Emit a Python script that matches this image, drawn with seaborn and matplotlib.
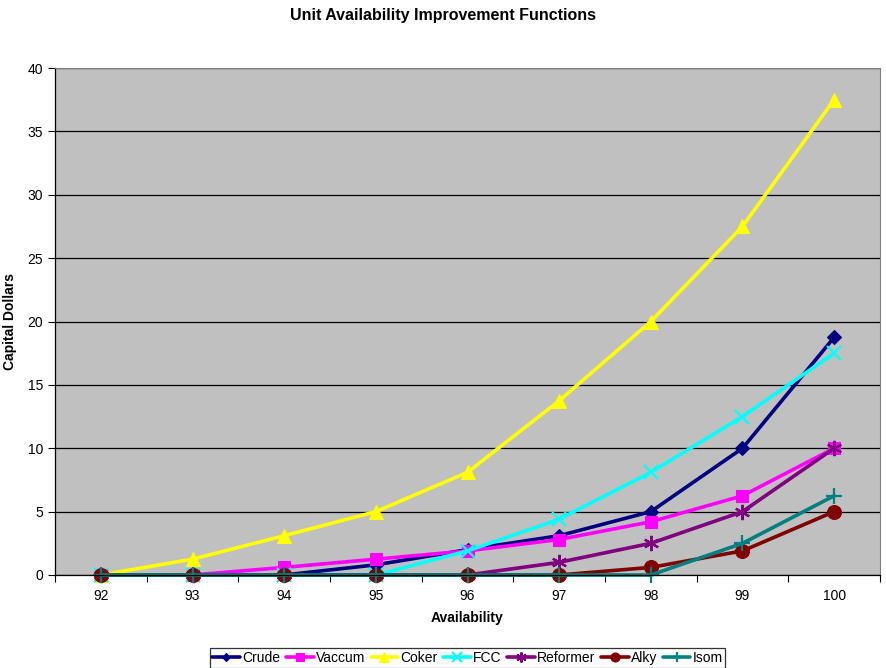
import matplotlib
matplotlib.use("Agg")
import matplotlib.pyplot as plt
import numpy as np
import pandas as pd
import seaborn as sns

availability = [92, 93, 94, 95, 96, 97, 98, 99, 100]

crude = [0, 0, 0, 0.8, 2.0, 3.1, 5.0, 10.0, 18.75]
vaccum = [0, 0, 0.6, 1.25, 1.9, 2.8, 4.2, 6.25, 10.0]
coker = [0, 1.25, 3.1, 5.0, 8.1, 13.75, 20.0, 27.5, 37.5]
fcc = [0, 0, 0, 0, 1.9, 4.4, 8.1, 12.5, 17.5]
reformer = [0, 0, 0, 0, 0, 1.0, 2.5, 5.0, 10.0]
alky = [0, 0, 0, 0, 0, 0, 0.6, 1.9, 5.0]
isom = [0, 0, 0, 0, 0, 0, 0, 2.5, 6.25]

series_names = ["Crude", "Vaccum", "Coker", "FCC", "Reformer", "Alky", "Isom"]
series_vals = [crude, vaccum, coker, fcc, reformer, alky, isom]
colors = ["#000080", "#FF00FF", "#FFFF00", "#00FFFF", "#800080", "#800000", "#008080"]
markers = ["D", "s", "^", "x", (6, 2, 0), "o", "+"]
msizes = [7, 9, 10, 10, 11, 10, 11]

df = pd.DataFrame({"Availability": availability * len(series_names),
                   "value": sum(series_vals, []),
                   "series": np.repeat(series_names, len(availability))})

sns.set_style("white")
plt.rcParams["font.family"] = ["Liberation Sans", "DejaVu Sans"]
plt.rcParams["text.color"] = "black"
plt.rcParams["axes.labelcolor"] = "black"
plt.rcParams["xtick.color"] = "black"
plt.rcParams["ytick.color"] = "black"

fig = plt.figure(figsize=(8.86, 6.68), dpi=100)
ax = fig.add_axes([55 / 886, 1 - 575 / 668, 825 / 886, 507 / 668])
ax.set_facecolor("#C0C0C0")

for name, c, m, ms in zip(series_names, colors, markers, msizes):
    sub = df[df["series"] == name]
    sns.lineplot(data=sub, x="Availability", y="value", ax=ax, color=c,
                 marker=m, markersize=ms, linewidth=2.6, label=name,
                 markeredgecolor=c, markeredgewidth=1.6 if m in ("x", "+") or isinstance(m, tuple) else 0.8,
                 clip_on=False)

ax.set_xlim(91.5, 100.5)
ax.set_ylim(0, 40)
ax.set_yticks(np.arange(0, 41, 5))
ax.set_xticks(availability)
ax.set_xticks(np.arange(91.5, 100.6, 1), minor=True)
ax.tick_params(axis="x", which="major", length=0, pad=10, labelsize=10)
ax.tick_params(axis="x", which="minor", length=5, width=0.8, direction="out", bottom=True)
ax.tick_params(axis="y", length=5, width=0.8, direction="out", left=True, labelsize=10)
ax.yaxis.grid(True, color="black", linewidth=0.9)
ax.set_axisbelow(True)
for s in ["top", "right"]:
    ax.spines[s].set_visible(True)
    ax.spines[s].set_color("#808080")
    ax.spines[s].set_linewidth(0.8)
for s in ["left", "bottom"]:
    ax.spines[s].set_color("black")
    ax.spines[s].set_linewidth(0.9)

ax.set_xlabel("Availability", fontsize=10, fontweight="bold", labelpad=6)
ax.set_ylabel("Capital Dollars", fontsize=10, fontweight="bold", labelpad=2)
ax.yaxis.set_label_coords(-38 / 825, 0.5)
fig.suptitle("Unit Availability Improvement Functions", fontsize=11.5,
             fontweight="bold", y=1 - 8 / 668)

ax.legend(loc="upper center", bbox_to_anchor=(0.5, -73 / 507), ncol=7,
          frameon=True, fancybox=False, edgecolor="black", fontsize=10,
          handlelength=2.0, handletextpad=0.15, columnspacing=0.4,
          borderpad=0.2, borderaxespad=0, markerscale=0.65)
leg = ax.get_legend()
leg.get_frame().set_linewidth(0.9)

fig.savefig("out.png", dpi=100, facecolor="white")
